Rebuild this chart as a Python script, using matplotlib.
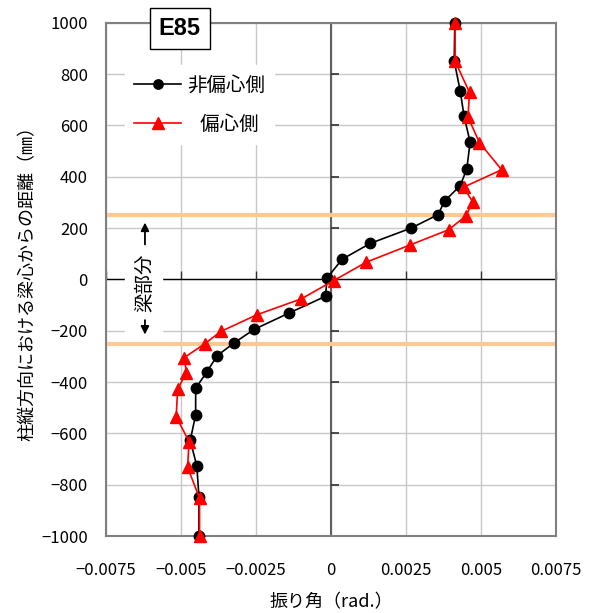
import numpy as np
import matplotlib
matplotlib.use("Agg")
from matplotlib import pyplot as plt

plt.rcParams['font.family'] = ['Noto Sans CJK JP', 'DejaVu Sans']

# 非偏心側 (black circles)
y_black = [1000, 850, 735, 635, 535, 430, 365, 305, 252, 200, 140, 78, 5,
           -66, -132, -195, -247, -298, -360, -424, -528, -627, -728, -848, -1000]
x_black = [4.13e-3, 4.11e-3, 4.31e-3, 4.44e-3, 4.64e-3, 4.53e-3, 4.31e-3, 3.79e-3,
           3.57e-3, 2.68e-3, 1.31e-3, 0.37e-3, -0.13e-3, -0.18e-3, -1.41e-3, -2.56e-3,
           -3.22e-3, -3.80e-3, -4.13e-3, -4.51e-3, -4.51e-3, -4.69e-3, -4.47e-3,
           -4.40e-3, -4.40e-3]

# 偏心側 (red triangles)
y_red = [1000, 850, 728, 632, 533, 427, 359, 303, 248, 193, 134, 67, -5,
         -76, -138, -203, -251, -305, -363, -428, -535, -632, -732, -853, -1000]
x_red = [4.14e-3, 4.14e-3, 4.62e-3, 4.57e-3, 4.95e-3, 5.69e-3, 4.42e-3, 4.72e-3,
         4.51e-3, 3.92e-3, 2.64e-3, 1.18e-3, 0.09e-3, -0.99e-3, -2.47e-3, -3.67e-3,
         -4.21e-3, -4.89e-3, -4.82e-3, -5.11e-3, -5.16e-3, -4.73e-3, -4.78e-3,
         -4.38e-3, -4.38e-3]

xticks = [-0.0075, -0.005, -0.0025, 0, 0.0025, 0.005, 0.0075]
xticklabels = ['−0.0075', '−0.005', '−0.0025', '0', '0.0025', '0.005', '0.0075']
yticks = list(range(-1000, 1001, 200))
yticklabels = ['−' + str(-v) if v < 0 else str(v) for v in yticks]
beam_half = 250

fig = plt.figure(figsize=(5.92, 6.13), dpi=100)
ax = fig.add_axes([0.179, 0.1256, 0.760, 0.8374])
ax.set_xlim(-0.0075, 0.0075)
ax.set_ylim(-1000, 1000)

ax.set_xticks(xticks)
ax.set_xticklabels(xticklabels)
ax.set_yticks(yticks)
ax.set_yticklabels(yticklabels)
ax.tick_params(axis='both', length=0, labelsize=12)
ax.tick_params(axis='x', pad=19)
ax.tick_params(axis='y', pad=13)
ax.grid(True, color='#c8c8c8', linewidth=1.0, zorder=0)
ax.set_axisbelow(True)
for s in ax.spines.values():
    s.set_color('#808080')
    s.set_linewidth(1.5)

# zero lines with their tick marks
ax.axhline(0, color='black', linewidth=1.0, zorder=1)
ax.axvline(0, color='#606060', linewidth=1.5, zorder=1)
ax.plot(np.zeros(len(yticks)), yticks, linestyle='none', marker=1,
        markersize=6, color='#303030', markeredgewidth=1.2, zorder=1, clip_on=False)
ax.plot(xticks, np.zeros(len(xticks)), linestyle='none', marker=2,
        markersize=6, color='#303030', markeredgewidth=1.0, zorder=1, clip_on=False)

# beam region lines
ax.axhline(beam_half, color='#ffc993', linewidth=3, zorder=2)
ax.axhline(-beam_half, color='#ffc993', linewidth=3, zorder=2)

ax.plot(x_black, y_black, color='black', linewidth=1.2, marker='o',
        markersize=7.5, label='非偏心側', zorder=4, clip_on=False)
ax.plot(x_red, y_red, color='red', linewidth=1.2, marker='^',
        markersize=9, label='   偏心側', zorder=5, clip_on=False)

leg = ax.legend(loc='upper left', bbox_to_anchor=(0.0415, 0.9176), borderaxespad=0,
                fontsize=14, frameon=True, fancybox=False, framealpha=1,
                edgecolor='white', handlelength=2.42, handletextpad=0.3,
                labelspacing=0.95, borderpad=0.48, markerscale=0.9)
leg.set_zorder(6)

# beam region annotation
xa = -0.0062
ax.axvspan(-0.00688, -0.00563, ymin=0.5 - 212 / 2000, ymax=0.5 + 180 / 2000,
           color='white', zorder=2.5)
ax.text(xa, -12, '梁部分', rotation=90, ha='center', va='center', fontsize=14,
        zorder=6)
ax.annotate('', xy=(xa, 232), xytext=(xa, 125),
            arrowprops=dict(arrowstyle='-|>', color='black', lw=1.3,
                            mutation_scale=12), zorder=6)
ax.annotate('', xy=(xa, -226), xytext=(xa, -148),
            arrowprops=dict(arrowstyle='-|>', color='black', lw=1.3,
                            mutation_scale=12), zorder=6)

ax.text(0.164, 0.988, 'E85', transform=ax.transAxes, ha='center', va='center',
        fontsize=17, fontweight='bold', family='Liberation Sans', zorder=7,
        bbox=dict(boxstyle='square,pad=0.38', facecolor='white', edgecolor='black',
                  linewidth=1.0))

ax.set_xlabel('振り角（rad.）', fontsize=13, labelpad=10)
ax.set_ylabel('柱縦方向における梁心からの距離（㎜）', fontsize=13, labelpad=3)

fig.savefig('out.png', dpi=100)
